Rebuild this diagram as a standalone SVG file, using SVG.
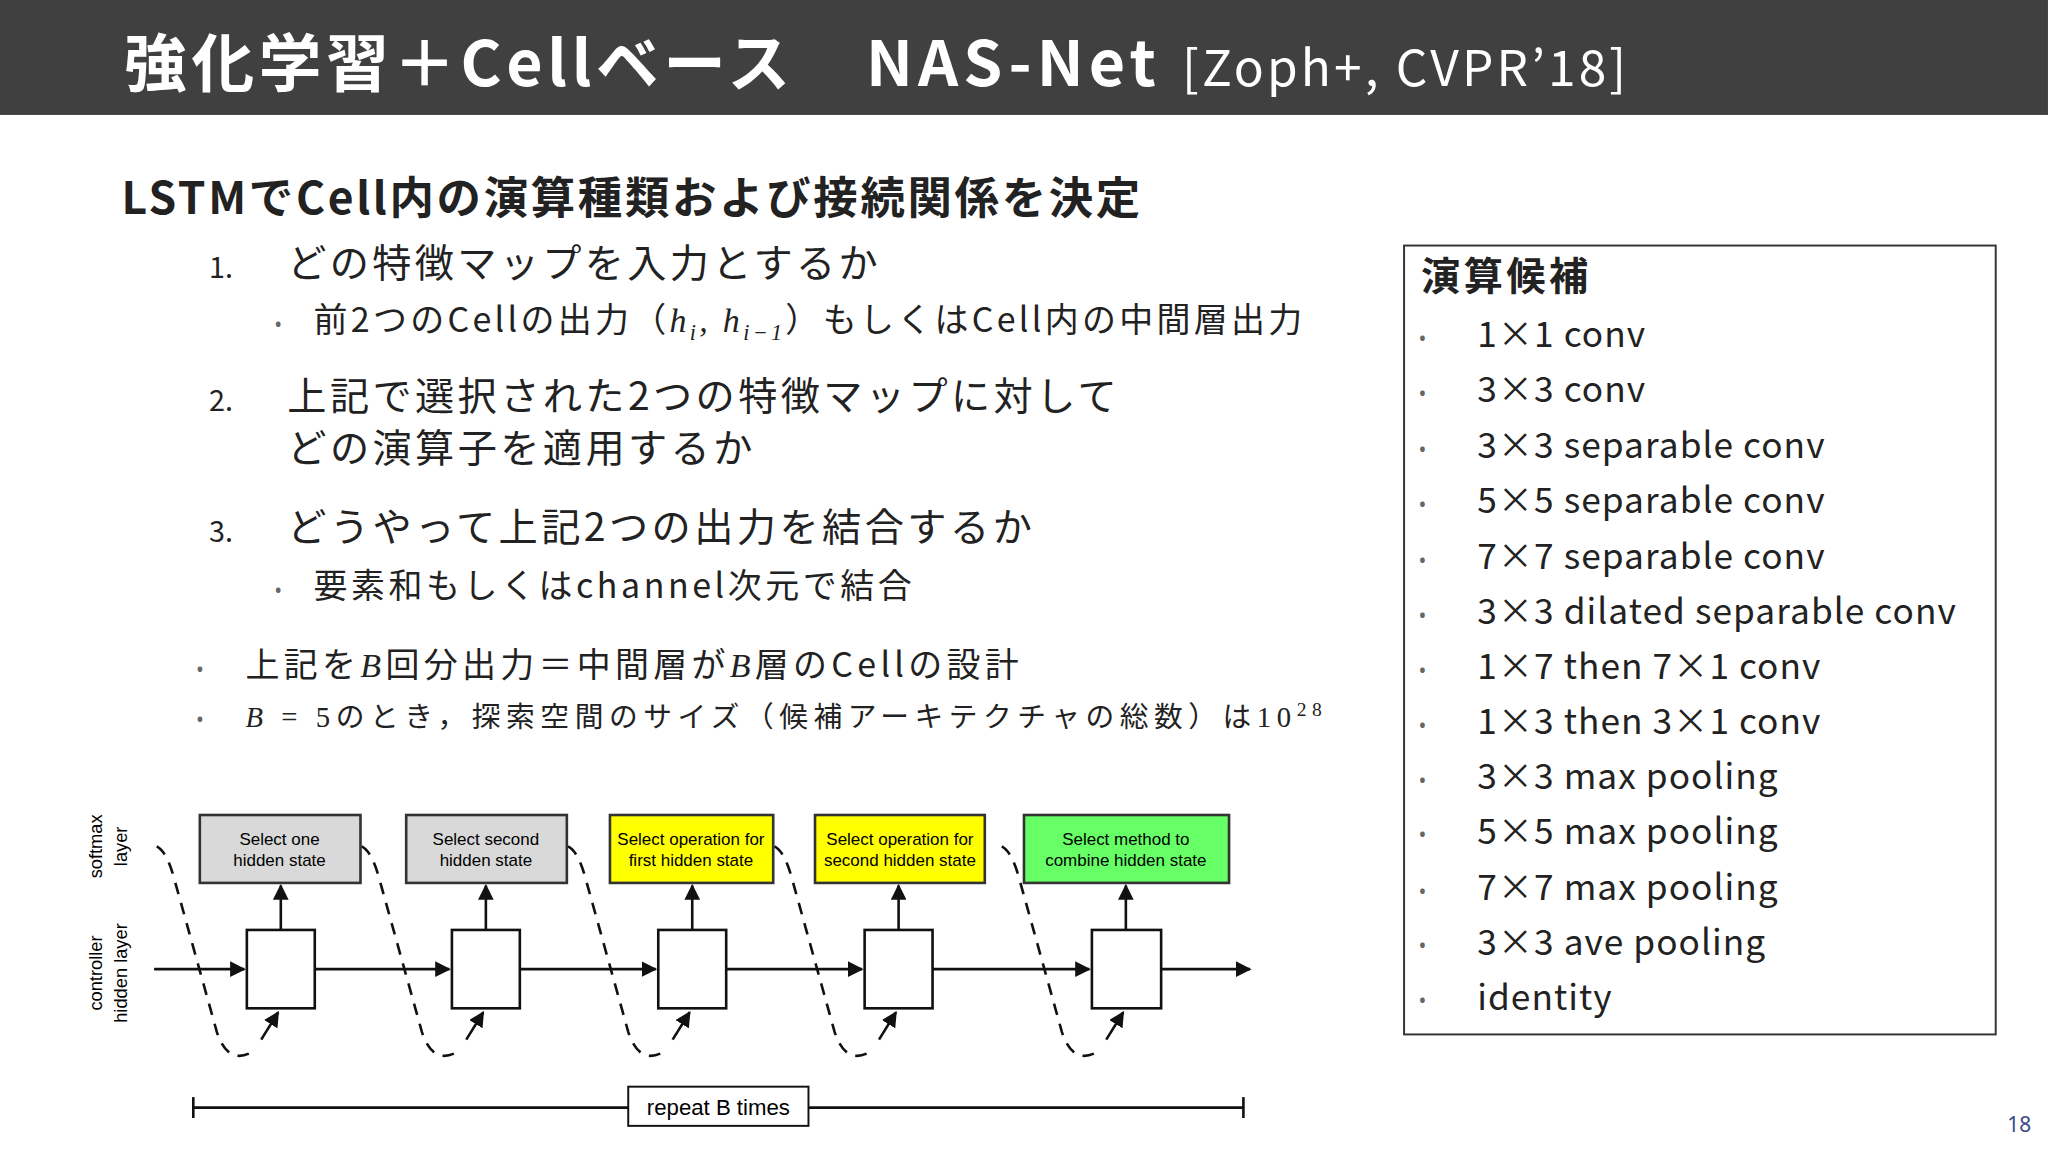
<svg xmlns="http://www.w3.org/2000/svg" width="2048" height="1152" viewBox="0 0 2048 1152">
<defs>
<style>
.jp{font-family:"Noto Sans CJK JP","Noto Sans",sans-serif;fill:#222}
.ar{font-family:"Liberation Sans",Arial,sans-serif;font-size:13px;fill:#000;text-anchor:middle}
.bx{stroke:#333;stroke-width:2}
.sm{fill:#fff;stroke:#111;stroke-width:2}
.ln{stroke:#111;stroke-width:2;fill:none}
.dash{stroke:#111;stroke-width:2;fill:none;stroke-dasharray:9 7}
.it{font-family:"Noto Sans CJK JP","Noto Sans",sans-serif;font-size:27px;fill:#222;letter-spacing:0.8px}
.bu{font-family:"Noto Sans",sans-serif;font-size:16px;fill:#666}
</style>
<marker id="ah" viewBox="0 0 10 10" refX="9" refY="5" markerWidth="6" markerHeight="6" orient="auto"><path d="M0,0L10,5L0,10z" fill="#111"/></marker>
</defs>
<rect width="2048" height="1152" fill="#fff"/>
<g transform="scale(1.3061)">
<g id="title">
<rect x="0" y="0" width="1568" height="88" fill="#404040"/>
<text x="95" y="66" font-family="Noto Sans CJK JP,sans-serif" font-weight="bold" font-size="48" fill="#fff" textLength="510" lengthAdjust="spacing">強化学習＋Cellベース</text>
<text x="663" y="66" font-family="Noto Sans CJK JP,sans-serif" font-weight="bold" font-size="48" fill="#fff" textLength="222" lengthAdjust="spacing">NAS-Net</text>
<text x="905" y="66" font-family="Noto Sans CJK JP,sans-serif" font-size="38" fill="#fff" textLength="340" lengthAdjust="spacing">[Zoph+, CVPR’18]</text>
</g>
<g id="text">
<text x="93" y="164" class="jp" font-size="34" font-weight="bold" fill="#111" textLength="780" lengthAdjust="spacing">LSTMでCell内の演算種類および接続関係を決定</text>
<text x="160" y="213" class="jp" font-size="22" fill="#666">1.</text>
<text x="220" y="212" class="jp" font-size="30" textLength="452" lengthAdjust="spacing">どの特徴マップを入力とするか</text>
<text x="210" y="254" class="bu">•</text>
<text x="240" y="254" class="jp" font-size="26" textLength="757" lengthAdjust="spacing">前2つのCellの出力（<tspan font-family="Liberation Serif,serif" font-style="italic">h<tspan font-size="17" dy="6">i</tspan><tspan dy="-6">, h</tspan><tspan font-size="17" dy="6">i−1</tspan></tspan><tspan dy="-6">）もしくはCell内の中間層出力</tspan></text>
<text x="160" y="315" class="jp" font-size="22" fill="#666">2.</text>
<text x="220" y="314" class="jp" font-size="30" textLength="635" lengthAdjust="spacing">上記で選択された2つの特徴マップに対して</text>
<text x="220" y="354" class="jp" font-size="30" textLength="356" lengthAdjust="spacing">どの演算子を適用するか</text>
<text x="160" y="415" class="jp" font-size="22" fill="#666">3.</text>
<text x="220" y="414" class="jp" font-size="30" textLength="570" lengthAdjust="spacing">どうやって上記2つの出力を結合するか</text>
<text x="210" y="458" class="bu">•</text>
<text x="240" y="458" class="jp" font-size="26" textLength="458" lengthAdjust="spacing">要素和もしくはchannel次元で結合</text>
<text x="150" y="518" class="bu">•</text>
<text x="188" y="518" class="jp" font-size="26" textLength="592" lengthAdjust="spacing">上記を<tspan font-family="Liberation Serif,serif" font-style="italic">B</tspan>回分出力＝中間層が<tspan font-family="Liberation Serif,serif" font-style="italic">B</tspan>層のCellの設計</text>
<text x="150" y="557" class="bu">•</text>
<text x="188" y="557" class="jp" font-size="22" textLength="824" lengthAdjust="spacing"><tspan font-family="Liberation Serif,serif" font-style="italic">B</tspan><tspan font-family="Liberation Serif,serif"> = 5</tspan>のとき，探索空間のサイズ（候補アーキテクチャの総数）は<tspan font-family="Liberation Serif,serif">10<tspan font-size="15" dy="-9">28</tspan></tspan></text>
</g>
<g id="ops">
<rect x="1075" y="188" width="453" height="604" fill="none" stroke="#333" stroke-width="1.5"/>
<text x="1088" y="222" class="jp" font-size="30" font-weight="bold" fill="#111" textLength="128" lengthAdjust="spacing">演算候補</text>
<g class="bu">
<text x="1086" y="265">•</text><text x="1086" y="307">•</text><text x="1086" y="350">•</text><text x="1086" y="392">•</text><text x="1086" y="435">•</text><text x="1086" y="477">•</text><text x="1086" y="519">•</text><text x="1086" y="561">•</text><text x="1086" y="603">•</text><text x="1086" y="645">•</text><text x="1086" y="688">•</text><text x="1086" y="730">•</text><text x="1086" y="772">•</text>
</g>
<text x="1131" y="266" class="it">1×1 conv</text>
<text x="1131" y="308" class="it">3×3 conv</text>
<text x="1131" y="351" class="it">3×3 separable conv</text>
<text x="1131" y="393" class="it">5×5 separable conv</text>
<text x="1131" y="436" class="it">7×7 separable conv</text>
<text x="1131" y="478" class="it">3×3 dilated separable conv</text>
<text x="1131" y="520" class="it">1×7 then 7×1 conv</text>
<text x="1131" y="562" class="it">1×3 then 3×1 conv</text>
<text x="1131" y="604" class="it">3×3 max pooling</text>
<text x="1131" y="646" class="it">5×5 max pooling</text>
<text x="1131" y="689" class="it">7×7 max pooling</text>
<text x="1131" y="731" class="it">3×3 ave pooling</text>
<text x="1131" y="773" class="it">identity</text>
</g>
<g id="diagram-labels" font-family="Liberation Sans,Arial,sans-serif" font-size="14" fill="#000" text-anchor="middle">
<text transform="translate(78,648) rotate(-90)">softmax</text>
<text transform="translate(97,648) rotate(-90)">layer</text>
<text transform="translate(78,745) rotate(-90)">controller</text>
<text transform="translate(97,745) rotate(-90)">hidden layer</text>
</g>
<g id="n1"><rect x="153" y="624" width="123" height="52" fill="#d9d9d9" class="bx"/><text x="214" y="647" class="ar">Select one</text><text x="214" y="663" class="ar">hidden state</text><rect x="189" y="712" width="52" height="60" class="sm"/></g>
<g id="n2"><rect x="311" y="624" width="123" height="52" fill="#d9d9d9" class="bx"/><text x="372" y="647" class="ar">Select second</text><text x="372" y="663" class="ar">hidden state</text><rect x="346" y="712" width="52" height="60" class="sm"/></g>
<g id="n3"><rect x="467" y="624" width="125" height="52" fill="#ffff00" class="bx"/><text x="529" y="647" class="ar">Select operation for</text><text x="529" y="663" class="ar">first hidden state</text><rect x="504" y="712" width="52" height="60" class="sm"/></g>
<g id="n4"><rect x="624" y="624" width="130" height="52" fill="#ffff00" class="bx"/><text x="689" y="647" class="ar">Select operation for</text><text x="689" y="663" class="ar">second hidden state</text><rect x="662" y="712" width="52" height="60" class="sm"/></g>
<g id="n5"><rect x="784" y="624" width="157" height="52" fill="#66ff66" class="bx"/><text x="862" y="647" class="ar">Select method to</text><text x="862" y="663" class="ar">combine hidden state</text><rect x="836" y="712" width="53" height="60" class="sm"/></g>
<g id="connectors">
<line x1="118" y1="742" x2="187" y2="742" class="ln" marker-end="url(#ah)"/>
<line x1="241" y1="742" x2="344" y2="742" class="ln" marker-end="url(#ah)"/>
<line x1="398" y1="742" x2="502" y2="742" class="ln" marker-end="url(#ah)"/>
<line x1="556" y1="742" x2="660" y2="742" class="ln" marker-end="url(#ah)"/>
<line x1="714" y1="742" x2="834" y2="742" class="ln" marker-end="url(#ah)"/>
<line x1="889" y1="742" x2="957" y2="742" class="ln" marker-end="url(#ah)"/>
<line x1="215" y1="712" x2="215" y2="678" class="ln" marker-end="url(#ah)"/>
<line x1="372" y1="712" x2="372" y2="678" class="ln" marker-end="url(#ah)"/>
<line x1="530" y1="712" x2="530" y2="678" class="ln" marker-end="url(#ah)"/>
<line x1="688" y1="712" x2="688" y2="678" class="ln" marker-end="url(#ah)"/>
<line x1="862" y1="712" x2="862" y2="678" class="ln" marker-end="url(#ah)"/>
<g id="curves">
<path d="M120 648 Q128 652 134 675 L166 790 Q174 815 192 806" class="dash"/><path d="M200 796 L213 775" class="ln" marker-end="url(#ah)"/>
<path transform="translate(157,0)" d="M120 648 Q128 652 134 675 L166 790 Q174 815 192 806" class="dash"/><path transform="translate(157,0)" d="M200 796 L213 775" class="ln" marker-end="url(#ah)"/>
<path transform="translate(315,0)" d="M120 648 Q128 652 134 675 L166 790 Q174 815 192 806" class="dash"/><path transform="translate(315,0)" d="M200 796 L213 775" class="ln" marker-end="url(#ah)"/>
<path transform="translate(473,0)" d="M120 648 Q128 652 134 675 L166 790 Q174 815 192 806" class="dash"/><path transform="translate(473,0)" d="M200 796 L213 775" class="ln" marker-end="url(#ah)"/>
<path transform="translate(647,0)" d="M120 648 Q128 652 134 675 L166 790 Q174 815 192 806" class="dash"/><path transform="translate(647,0)" d="M200 796 L213 775" class="ln" marker-end="url(#ah)"/>
</g>
<line x1="148" y1="848" x2="952" y2="848" class="ln"/>
<line x1="148" y1="840" x2="148" y2="856" class="ln"/>
<line x1="952" y1="840" x2="952" y2="856" class="ln"/>
</g>
<g id="repeat"><rect x="481" y="832" width="138" height="30" fill="#fff" stroke="#111" stroke-width="1.5"/><text x="550" y="854" font-family="Liberation Sans,Arial,sans-serif" font-size="17" text-anchor="middle" fill="#000">repeat B times</text></g>
<text x="1546" y="867" font-family="Noto Sans,sans-serif" font-size="16" fill="#3a4a8a" text-anchor="middle">18</text>
</g>
</svg>
